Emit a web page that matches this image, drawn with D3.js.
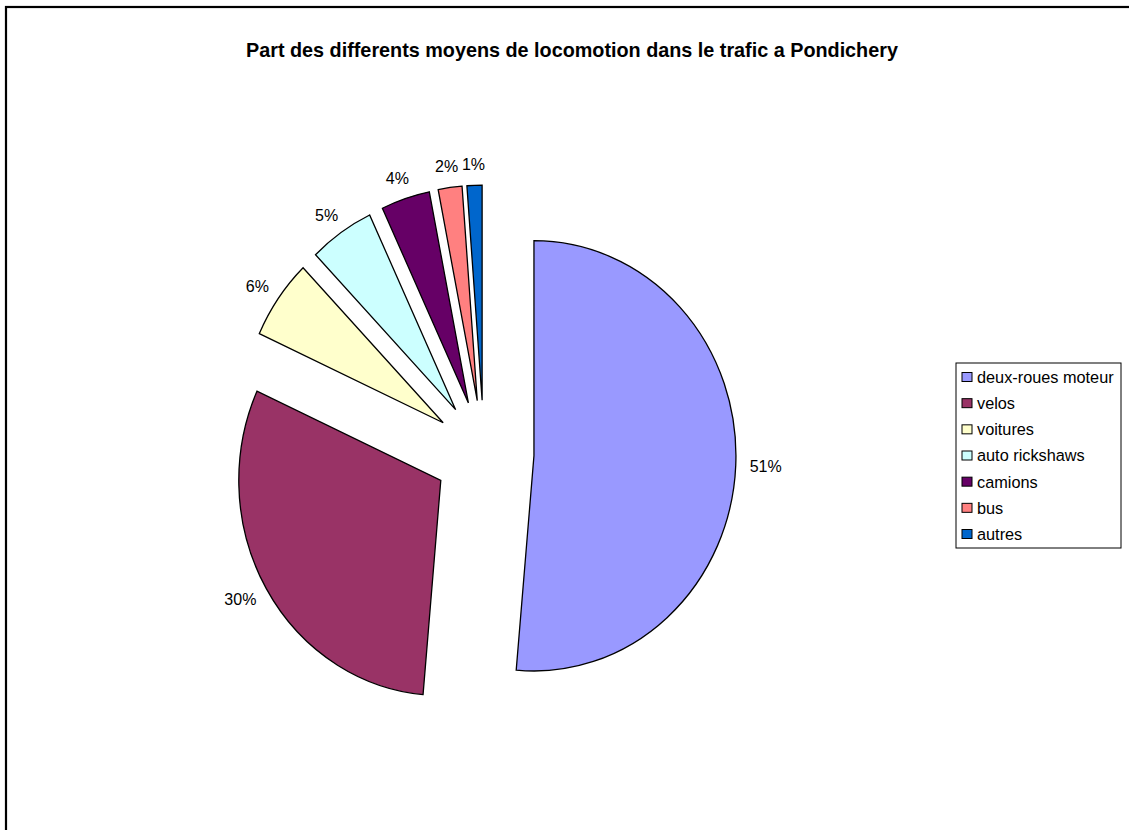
<!DOCTYPE html>
<html lang="fr">
<head>
  <meta charset="UTF-8" />
  <title>Part des differents moyens de locomotion</title>
  <script src="https://d3js.org/d3.v7.min.js"></script>
  <style>
    body {
      margin: 0;
      padding: 0;
      background: #fff;
      font-family: Arial, "Liberation Sans", sans-serif;
    }
    .slice {
      stroke: #000;
      stroke-width: 1.3px;
      vector-effect: non-scaling-stroke;
    }
    .pct {
      font-size: 16px;
      fill: #000;
    }
    .legend text {
      font-size: 16.3px;
    }
  </style>
</head>
<body>
  <script>
    // data
    var categories = ["deux-roues moteur", "velos", "voitures", "auto rickshaws", "camions", "bus", "autres"];
    var shares = [51.4, 30.4, 6.0, 5.2, 3.9, 1.9, 1.2];
    var colors = ["#9999FF", "#993366", "#FFFFCC", "#CCFFFF", "#660066", "#FF8080", "#0066CC"];

    var W = 1129, H = 830;
    var svg = d3.select("body").append("svg")
      .attr("width", W)
      .attr("height", H);

    // chart frame (runs past the right and bottom edges)
    svg.append("rect")
      .attr("x", 6).attr("y", 7)
      .attr("width", W + 20).attr("height", H + 20)
      .attr("fill", "none")
      .attr("stroke", "#000")
      .attr("stroke-width", 2.2);

    svg.append("text")
      .attr("x", 572)
      .attr("y", 57)
      .attr("text-anchor", "middle")
      .style("font-size", "19.8px")
      .style("font-weight", "bold")
      .text("Part des differents moyens de locomotion dans le trafic a Pondichery");

    // pie (slightly taller than wide, like the original)
    var cx = 484, cy = 453.5, r = 202, sy = 1.065, explode = 50;

    var pie = d3.pie().sort(null).value(function (d) { return d; });
    var arcs = pie(shares);
    var arc = d3.arc().innerRadius(0).outerRadius(r);

    var g = svg.append("g")
      .attr("transform", "translate(" + cx + "," + cy + ") scale(1," + sy + ")");

    g.selectAll(".slice")
      .data(arcs)
      .enter().append("path")
      .attr("class", "slice")
      .attr("fill", function (d, i) { return colors[i]; })
      .attr("transform", function (d) {
        var a = (d.startAngle + d.endAngle) / 2;
        return "translate(" + (explode * Math.sin(a)) + "," + (-explode * Math.cos(a)) + ")";
      })
      .attr("d", arc);

    // percent labels, just outside each slice
    var gap = 14;
    arcs.forEach(function (d, i) {
      var a = (d.startAngle + d.endAngle) / 2;
      var dx = Math.sin(a), dy = -Math.cos(a);
      var px = cx + (explode + r) * dx;
      var py = cy + (explode + r) * dy * sy;
      var t = svg.append("text")
        .attr("class", "pct")
        .attr("text-anchor", "middle")
        .attr("dominant-baseline", "central")
        .text(Math.round(d.value) + "%");
      var w = t.node().getComputedTextLength(), h = 14;
      t.attr("x", px + dx * (gap + w / 2))
        .attr("y", py + dy * (gap + h / 2));
    });

    // legend
    var lg = svg.append("g").attr("class", "legend");
    lg.append("rect")
      .attr("x", 956).attr("y", 363)
      .attr("width", 165).attr("height", 185)
      .attr("fill", "#fff")
      .attr("stroke", "#000")
      .attr("stroke-width", 1);

    var rowY = d3.scalePoint().domain(categories).range([377, 534]);

    var items = lg.selectAll(".item")
      .data(categories)
      .enter().append("g")
      .attr("transform", function (d) { return "translate(962," + rowY(d) + ")"; });

    items.append("rect")
      .attr("x", 0).attr("y", -4.5)
      .attr("width", 10).attr("height", 9)
      .attr("fill", function (d, i) { return colors[i]; })
      .attr("stroke", "#000")
      .attr("stroke-width", 1);

    items.append("text")
      .attr("x", 15)
      .attr("dy", "0.36em")
      .text(function (d) { return d; });
  </script>
</body>
</html>
